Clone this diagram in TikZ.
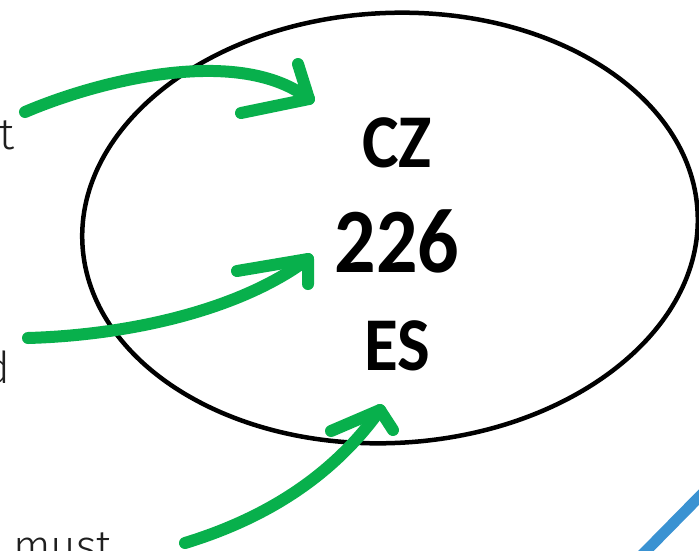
\documentclass[tikz,border=0pt]{standalone}
\usepackage{fontspec}
\newfontfamily\calfont{Carlito}
\newfontfamily\thinfont{Fira Sans Light}
\usetikzlibrary{shapes.geometric}
\definecolor{arrgreen}{RGB}{8,176,76}
\definecolor{lineblue}{RGB}{58,146,210}
\begin{document}
\begin{tikzpicture}[x=1pt,y=-1pt,
  greenarrow/.style={draw=arrgreen, line width=12pt, line cap=round, line join=round},
  codebig/.style={font=\calfont\bfseries\fontsize{92}{96}\selectfont, inner sep=0pt, anchor=base, xscale=0.89},
  codesmall/.style={font=\calfont\bfseries\fontsize{76}{80}\selectfont, inner sep=0pt, anchor=base, xscale=0.91},
  side/.style={font=\thinfont\fontsize{44}{50}\selectfont, inner sep=0pt, text=black!88}]
\useasboundingbox (0,0) rectangle (699,550);
\clip (0,0) rectangle (699,550);
% oval
\node[draw, ellipse, line width=4.5pt, minimum width=616pt, minimum height=430pt, inner sep=0pt, rotate=3] (oval) at (390,228) {};
% codes
\node[codesmall] (cz) at (397,167) {CZ};
\node[codebig] (num) at (397,272) {226};
\node[codesmall] (es) at (397,370) {ES};
% cut-off side texts
\node[side, anchor=base east] (t1) at (15,149) {t};
\node[side, anchor=base east] (t2) at (10,383) {d};
\node[side, anchor=base west] (t3) at (13,561) {must};
% arrow 1
\coordinate (a1s) at (25,112);
\coordinate (a1t) at (309,99);
\coordinate (a1l) at (241,113);
\coordinate (a1u) at (298,64);
\draw[greenarrow] (a1s) .. controls (100,80) and (240,45) .. (a1t);
\draw[greenarrow] (a1u) -- (a1t) -- (a1l);
% arrow 2
\coordinate (a2s) at (28,338);
\coordinate (a2t) at (308,259);
\coordinate (a2l) at (237,271);
\coordinate (a2d) at (308,284);
\draw[greenarrow] (a2s) .. controls (130,335) and (240,310) .. (a2t);
\draw[greenarrow] (a2l) -- (a2t) -- (a2d);
% arrow 3
\coordinate (a3s) at (185,543);
\coordinate (a3t) at (380,410);
\coordinate (a3l) at (331,431);
\coordinate (a3r) at (393,430);
\draw[greenarrow] (a3s) .. controls (260,520) and (330,480) .. (a3t);
\draw[greenarrow] (a3l) -- (a3t) -- (a3r);
% blue stroke
\coordinate (b1) at (640,557);
\coordinate (b2) at (705,491);
\draw[lineblue, line width=11pt] (b1) -- (b2);
\end{tikzpicture}
\end{document}
